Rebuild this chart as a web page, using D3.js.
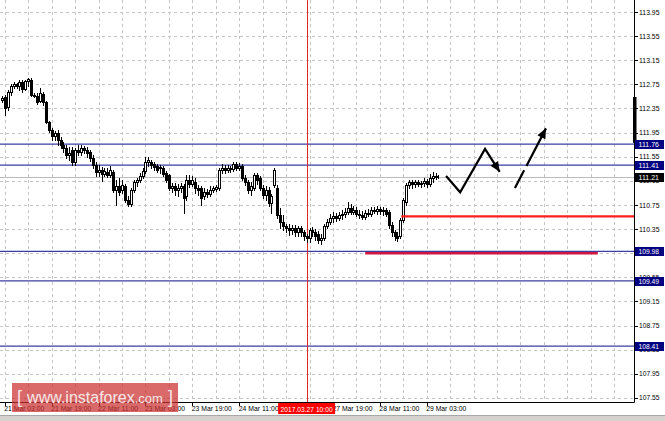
<!DOCTYPE html>
<html><head><meta charset="utf-8">
<script src="https://cdn.jsdelivr.net/npm/d3@7"></script>
<style>html,body{margin:0;padding:0;background:#fff;overflow:hidden}</style>
</head><body><svg id="c" width="665" height="421"></svg>
<script>
// ---- Data (USD/JPY H1) ----
const barOpen = [112.49,112.54,112.37,112.62,112.72,112.76,112.72,112.79,112.67,112.81,
112.82,112.57,112.56,112.47,112.59,112.46,112.13,111.99,111.89,111.94,
111.83,111.74,111.69,111.58,111.66,111.46,111.66,111.63,111.69,111.66,
111.63,111.53,111.41,111.30,111.33,111.26,111.30,111.25,111.30,111.00,
111.06,111.00,111.06,110.83,110.77,111.00,111.13,111.16,111.23,111.31,
111.46,111.46,111.43,111.40,111.36,111.36,111.28,111.25,111.03,111.06,
111.00,111.03,111.06,110.90,111.16,111.10,111.13,111.03,111.03,110.90,
110.96,110.93,111.00,111.01,111.03,111.33,111.36,111.33,111.36,111.35,
111.43,111.36,111.40,111.20,111.13,111.00,111.03,111.25,111.20,111.03,
110.92,111.00,110.78,111.08,111.03,110.58,110.47,110.40,110.37,110.33,
110.37,110.30,110.37,110.30,110.24,110.20,110.33,110.30,110.27,110.17,
110.20,110.40,110.47,110.53,110.57,110.53,110.58,110.60,110.63,110.70,
110.63,110.67,110.60,110.58,110.55,110.62,110.60,110.67,110.65,110.68,
110.65,110.67,110.63,110.42,110.30,110.24,110.24,110.50,110.80,111.08,
111.13,111.10,111.13,111.10,111.11,111.15,111.10,111.20,111.23,111.21];
const barHigh = [112.56,112.57,112.66,112.76,112.79,112.77,112.82,112.82,112.82,112.86,
112.86,112.61,112.61,112.69,112.62,112.47,112.14,112.03,111.98,111.99,
111.88,111.79,111.74,111.71,111.71,111.69,111.74,111.74,111.73,111.71,
111.66,111.58,111.46,111.41,111.38,111.36,111.36,111.40,111.33,111.16,
111.20,111.16,111.10,110.90,111.03,111.16,111.20,111.28,111.36,111.55,
111.55,111.50,111.46,111.43,111.41,111.40,111.31,111.26,111.11,111.11,
111.10,111.11,111.10,111.25,111.25,111.23,111.20,111.08,111.06,111.03,
111.01,111.06,111.06,111.08,111.36,111.43,111.41,111.41,111.40,111.46,
111.46,111.45,111.43,111.25,111.16,111.13,111.28,111.28,111.23,111.08,
111.06,111.05,110.93,111.36,111.08,110.70,110.58,110.43,110.43,110.42,
110.42,110.40,110.40,110.33,110.27,110.37,110.38,110.35,110.32,110.27,
110.43,110.52,110.60,110.63,110.62,110.63,110.67,110.70,110.80,110.77,
110.73,110.72,110.67,110.65,110.67,110.68,110.72,110.72,110.73,110.72,
110.72,110.70,110.67,110.47,110.33,110.30,110.53,110.87,111.11,111.16,
111.16,111.16,111.16,111.15,111.20,111.18,111.26,111.30,111.28,111.25];
const barLow = [112.46,112.24,112.32,112.57,112.69,112.69,112.66,112.62,112.66,112.72,
112.56,112.54,112.42,112.46,112.41,112.11,111.96,111.83,111.83,111.74,
111.69,111.63,111.53,111.50,111.41,111.41,111.58,111.58,111.61,111.55,
111.48,111.36,111.23,111.23,111.15,111.23,111.21,111.21,110.96,110.75,
110.92,110.95,110.80,110.73,110.73,110.96,111.06,111.13,111.20,111.28,
111.40,111.36,111.33,111.30,111.28,111.23,111.13,111.00,110.96,110.92,
110.90,110.96,110.62,110.83,111.05,111.06,110.95,110.92,110.75,110.85,
110.88,110.90,110.96,110.98,111.00,111.28,111.28,111.30,111.30,111.31,
111.33,111.33,111.16,111.08,110.95,110.92,111.00,111.10,111.00,110.87,
110.83,110.73,110.62,111.05,110.53,110.37,110.33,110.30,110.25,110.27,
110.24,110.24,110.24,110.17,110.14,110.14,110.24,110.17,110.12,110.10,
110.17,110.37,110.43,110.47,110.48,110.50,110.52,110.55,110.60,110.60,
110.60,110.57,110.53,110.52,110.52,110.57,110.57,110.62,110.60,110.60,
110.58,110.57,110.37,110.24,110.17,110.15,110.20,110.47,110.75,111.03,
111.03,111.05,111.06,111.05,111.06,111.05,111.06,111.13,111.18,111.20];
const barClose = [112.52,112.36,112.62,112.72,112.76,112.72,112.79,112.67,112.81,112.84,
112.57,112.56,112.46,112.61,112.46,112.13,111.99,111.89,111.94,111.83,
111.74,111.69,111.58,111.61,111.46,111.66,111.63,111.69,111.66,111.61,
111.53,111.41,111.30,111.33,111.26,111.31,111.25,111.33,111.00,111.06,
110.96,111.08,110.83,110.77,111.00,111.13,111.16,111.23,111.31,111.46,
111.50,111.41,111.38,111.33,111.38,111.26,111.16,111.03,111.06,111.00,
111.03,111.06,110.87,111.16,111.10,111.16,111.03,111.00,110.87,110.96,
110.93,111.00,111.03,111.05,111.33,111.36,111.33,111.36,111.35,111.43,
111.36,111.40,111.20,111.13,111.00,111.06,111.25,111.16,111.03,110.92,
111.00,110.78,110.90,111.33,110.58,110.47,110.40,110.37,110.33,110.37,
110.30,110.37,110.30,110.24,110.20,110.33,110.30,110.24,110.17,110.20,
110.40,110.47,110.53,110.57,110.53,110.58,110.60,110.63,110.70,110.63,
110.67,110.60,110.58,110.55,110.62,110.60,110.67,110.65,110.68,110.65,
110.67,110.60,110.42,110.30,110.24,110.20,110.50,110.83,111.08,111.13,
111.10,111.13,111.10,111.11,111.15,111.10,111.20,111.23,111.21,111.21];

const priceTicks = [113.95,113.55,113.15,112.75,112.35,111.95,111.55,111.15,110.75,110.35,109.95,109.55,109.15,108.75,108.35,107.95,107.55];
const timeTickIndex = [1,17,33,49,65,81,97,113,129,145];
const timeTickLabels = ["21 Mar 03:00","21 Mar 19:00","22 Mar 11:00","23 Mar 03:00","23 Mar 19:00","24 Mar 11:00","27 Mar 03:00","27 Mar 19:00","28 Mar 11:00","29 Mar 03:00"];
const levelPrices = [111.76,111.41,109.98,109.49,108.41];
const lastPrice = 111.21;
const crossIndex = 104, crossLabel = "2017.03.27 10:00";
const redSegments = [{from:136.3,to:215.74,price:110.56,color:"#ff1e1e"},{from:124,to:203.4,price:109.95,color:"#d3163c"}];
const forecastA = [[151.6,111.23],[156.4,110.96],[164.9,111.68],[169.9,111.30]];
const forecastB = [[175.1,111.03],[185.7,112.02]];
const edgeBar = [112.54,111.78];

// ---- Layout ----
const plotR = 634, plotB = 402;
const svg = d3.select("#c");
const x = d3.scaleLinear().domain([-0.65, 215.74]).range([0, plotR]);
const y = d3.scaleLinear().domain([107.482, 114.149]).range([plotB, 0]);
const px = v => Math.round(v) + 0.5;
const FONT = "'Liberation Sans',Arial,sans-serif";

svg.append("rect").attr("width",665).attr("height",421).attr("fill","#fff");

// grid
const grid = svg.append("g").attr("stroke","#c4c4c4").attr("stroke-dasharray","3,3").attr("shape-rendering","crispEdges");
priceTicks.forEach(p => grid.append("line").attr("x1",0).attr("x2",plotR).attr("y1",px(y(p))).attr("y2",px(y(p))));
d3.range(1, 216, 8).forEach(i => grid.append("line").attr("x1",px(x(i))).attr("x2",px(x(i))).attr("y1",0).attr("y2",plotB));

// horizontal levels
svg.append("line").attr("x1",0).attr("x2",plotR).attr("y1",px(y(lastPrice))).attr("y2",px(y(lastPrice)))
  .attr("stroke","#bdbdbd").attr("stroke-width",1).attr("shape-rendering","crispEdges");
levelPrices.forEach(p => svg.append("line").attr("x1",0).attr("x2",plotR).attr("y1",y(p)).attr("y2",y(p))
  .attr("stroke","#3c3ca6").attr("stroke-width",1.3));

// crosshair vertical
svg.append("line").attr("x1",px(x(crossIndex))).attr("x2",px(x(crossIndex))).attr("y1",0).attr("y2",plotB)
  .attr("stroke","#e02828").attr("stroke-width",1).attr("shape-rendering","crispEdges");

// candles
const cg = svg.append("g").attr("shape-rendering","crispEdges");
barClose.forEach((c, i) => {
  const o = barOpen[i], h = barHigh[i], l = barLow[i];
  const xl = Math.round(x(i)) - 1;
  cg.append("line").attr("x1",xl+1.5).attr("x2",xl+1.5).attr("y1",Math.round(y(h))).attr("y2",Math.round(y(l))+1).attr("stroke","#000");
  const t = Math.round(y(Math.max(o,c))), b = Math.round(y(Math.min(o,c)));
  cg.append("rect").attr("x",xl+0.5).attr("y",t+0.5).attr("width",2).attr("height",Math.max(b-t,0))
    .attr("fill", c < o ? "#000" : "#fff").attr("stroke","#000").attr("stroke-width",1);
});

// red segments
redSegments.forEach(s => svg.append("line").attr("x1",x(s.from)).attr("x2",x(s.to)).attr("y1",y(s.price)).attr("y2",y(s.price))
  .attr("stroke",s.color).attr("stroke-width",2.4));

// forecast arrows
function arrow(pts, dash) {
  const line = d3.line().x(d => x(d[0])).y(d => y(d[1]));
  const p = svg.append("path").attr("d", line(pts)).attr("fill","none").attr("stroke","#000")
    .attr("stroke-width",2.2).attr("stroke-linejoin","miter");
  if (dash) p.attr("stroke-dasharray", dash);
  const a = pts[pts.length-2], b = pts[pts.length-1];
  const x1 = x(a[0]), y1 = y(a[1]), x2 = x(b[0]), y2 = y(b[1]);
  const ang = Math.atan2(y2-y1, x2-x1), L = 10, Wd = 4.5;
  const bx = x2 - L*Math.cos(ang), by = y2 - L*Math.sin(ang);
  const nx = -Math.sin(ang), ny = Math.cos(ang);
  svg.append("path").attr("d", `M${x2},${y2}L${bx+nx*Wd},${by+ny*Wd}L${bx-nx*Wd},${by-ny*Wd}Z`).attr("fill","#000");
}
arrow(forecastA, null);
arrow(forecastB, "20,5,80");

// axes frame
svg.append("line").attr("x1",0).attr("x2",plotR+0.5).attr("y1",plotB+0.5).attr("y2",plotB+0.5).attr("stroke","#000");
svg.append("line").attr("x1",plotR+0.5).attr("x2",plotR+0.5).attr("y1",0).attr("y2",plotB+0.5).attr("stroke","#000");
svg.append("rect").attr("x",633).attr("y",y(edgeBar[0])).attr("width",3.5).attr("height",y(edgeBar[1])-y(edgeBar[0])).attr("fill","#000");

// price axis labels
const ax = svg.append("g").attr("font-family",FONT).attr("font-size",7.2).attr("fill","#000");
priceTicks.forEach(p => {
  ax.append("line").attr("x1",plotR).attr("x2",plotR+4).attr("y1",px(y(p))).attr("y2",px(y(p))).attr("stroke","#000").attr("shape-rendering","crispEdges");
  ax.append("text").attr("x",639).attr("y",y(p)+2.6).attr("textLength",20.5).attr("lengthAdjust","spacingAndGlyphs").text(p.toFixed(2));
});
// level boxes
levelPrices.concat([lastPrice]).forEach(p => {
  const yy = Math.round(y(p));
  ax.append("rect").attr("x",635).attr("y",yy-4).attr("width",29).attr("height",9).attr("fill", p === lastPrice ? "#000" : "#000080");
  ax.append("text").attr("x",638.5).attr("y",yy+3.2).attr("fill","#fff").attr("textLength",20.5).attr("lengthAdjust","spacingAndGlyphs").text(p.toFixed(2));
});

// time axis
const tx = svg.append("g").attr("font-family",FONT).attr("font-size",7.2).attr("fill","#000");
timeTickIndex.forEach((i, k) => {
  tx.append("line").attr("x1",px(x(i))).attr("x2",px(x(i))).attr("y1",plotB).attr("y2",plotB+4).attr("stroke","#000").attr("shape-rendering","crispEdges");
  tx.append("text").attr("x",x(i)-0.5).attr("y",411).attr("textLength",40).attr("lengthAdjust","spacingAndGlyphs").text(timeTickLabels[k]);
});
const cx = x(crossIndex);
tx.append("rect").attr("x",cx-28.5).attr("y",403).attr("width",57).attr("height",11).attr("fill","#ff0000");
tx.append("text").attr("x",cx-26).attr("y",411.5).attr("fill","#fff").attr("textLength",52).attr("lengthAdjust","spacingAndGlyphs").text(crossLabel);

// bottom strip
svg.append("rect").attr("x",0).attr("y",415).attr("width",665).attr("height",6).attr("fill","#d6d3ce");
svg.append("line").attr("x1",0).attr("x2",665).attr("y1",415.5).attr("y2",415.5).attr("stroke","#a8a8a8");

// watermark
svg.append("rect").attr("x",12).attr("y",383).attr("width",166).attr("height",29).attr("fill","#cc3030").attr("opacity",0.72);
const wm = svg.append("text").attr("x",95).attr("y",403).attr("text-anchor","middle").attr("fill","#f6e6e6")
  .attr("font-family","'Liberation Sans',Arial,sans-serif");
wm.append("tspan").attr("font-size",18).attr("font-weight",300).text("[ ");
wm.append("tspan").attr("font-size",16).text("www.instaforex");
wm.append("tspan").attr("font-size",13).text(".com");
wm.append("tspan").attr("font-size",18).text(" ]");
</script></body></html>
